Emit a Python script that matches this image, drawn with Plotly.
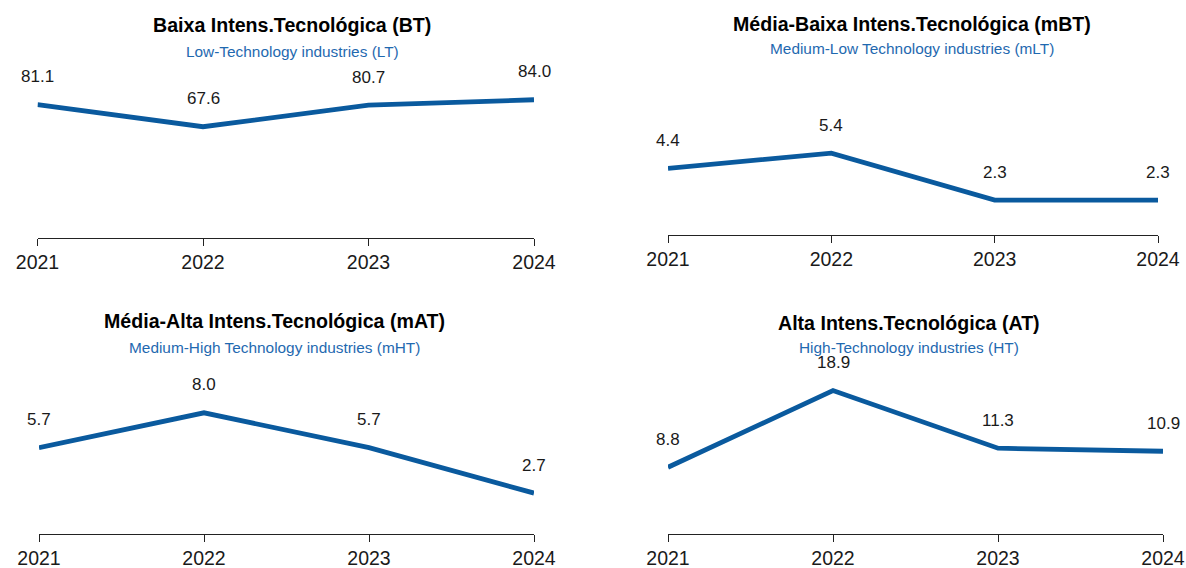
import plotly.graph_objects as go

W, H = 1186, 568

years = [2021, 2022, 2023, 2024]
titles = ["Baixa Intens.Tecnológica (BT)", "Média-Baixa Intens.Tecnológica (mBT)",
          "Média-Alta Intens.Tecnológica (mAT)", "Alta Intens.Tecnológica (AT)"]
subtitles = ["Low-Technology industries (LT)", "Medium-Low Technology industries (mLT)",
             "Medium-High Technology industries (mHT)", "High-Technology industries (HT)"]
bt = [81.1, 67.6, 80.7, 84.0]
mbt = [4.4, 5.4, 2.3, 2.3]
mat = [5.7, 8.0, 5.7, 2.7]
at = [8.8, 18.9, 11.3, 10.9]
series = [bt, mbt, mat, at]

LINE = "#0a5a9e"
SUB = "#1f69b0"
TXT = "#1a1a1a"
FONT = "Liberation Sans, Arial, sans-serif"

# panel geometry in pixels: x_left, x_right, y_zero(bottom), y_top, px_per_unit, title pos
panels = [
    dict(x0=37.5, x1=534, yb=238, yt=60, ppu=1.646, tx=292, ty=25, sy=51),
    dict(x0=668, x1=1158, yb=235, yt=60, ppu=15.16, tx=912, ty=24, sy=48),
    dict(x0=39, x1=534, yb=534, yt=360, ppu=15.15, tx=274, ty=321, sy=347),
    dict(x0=668, x1=1163, yb=534, yt=360, ppu=7.59, tx=909, ty=323, sy=347),
]

fig = go.Figure()
annotations = []
for i, (p, vals) in enumerate(zip(panels, series)):
    n = i + 1
    xa = "x" if n == 1 else f"x{n}"
    ya = "y" if n == 1 else f"y{n}"
    fig.add_trace(go.Scatter(x=years, y=vals, mode="lines", xaxis=xa, yaxis=ya,
                             line=dict(color=LINE, width=4.8), showlegend=False,
                             hoverinfo="skip"))
    for xv, yv in zip(years, vals):
        annotations.append(dict(x=xv, y=yv, xref=xa, yref=ya, text=f"{yv:.1f}",
                                showarrow=False, yshift=28,
                                font=dict(family=FONT, size=17, color=TXT)))
    annotations.append(dict(x=p["tx"] / W, y=1 - p["ty"] / H, xref="paper", yref="paper",
                            text=f"<b>{titles[i]}</b>", showarrow=False,
                            xanchor="center", yanchor="middle",
                            font=dict(family=FONT, size=19.6, color="#000000")))
    annotations.append(dict(x=p["tx"] / W, y=1 - p["sy"] / H, xref="paper", yref="paper",
                            text=subtitles[i], showarrow=False,
                            xanchor="center", yanchor="middle",
                            font=dict(family=FONT, size=15.4, color=SUB)))
    xkey = "xaxis" if n == 1 else f"xaxis{n}"
    ykey = "yaxis" if n == 1 else f"yaxis{n}"
    top = (p["yb"] - p["yt"]) / p["ppu"]
    fig.update_layout(**{
        xkey: dict(domain=[p["x0"] / W, p["x1"] / W], range=[2021, 2024], anchor=ya,
                   tickvals=years, ticktext=[str(y) for y in years],
                   showline=True, linecolor="#222222", linewidth=1,
                   ticks="outside", ticklen=7, tickcolor="#222222", tickwidth=1,
                   showgrid=False, zeroline=False, ticklabelstandoff=0, automargin=False,
                   tickfont=dict(family=FONT, size=19.5, color=TXT)),
        ykey: dict(domain=[1 - p["yb"] / H, 1 - p["yt"] / H], range=[0, top], anchor=xa,
                   visible=False, showgrid=False, zeroline=False, automargin=False),
    })

fig.update_layout(template="none", width=W, height=H, margin=dict(l=0, r=0, t=0, b=0, pad=0),
                  paper_bgcolor="white", plot_bgcolor="white",
                  annotations=annotations, showlegend=False)

fig.write_html("out.html", config={"displayModeBar": False, "staticPlot": True},
               post_script="document.body.style.margin='0';")
